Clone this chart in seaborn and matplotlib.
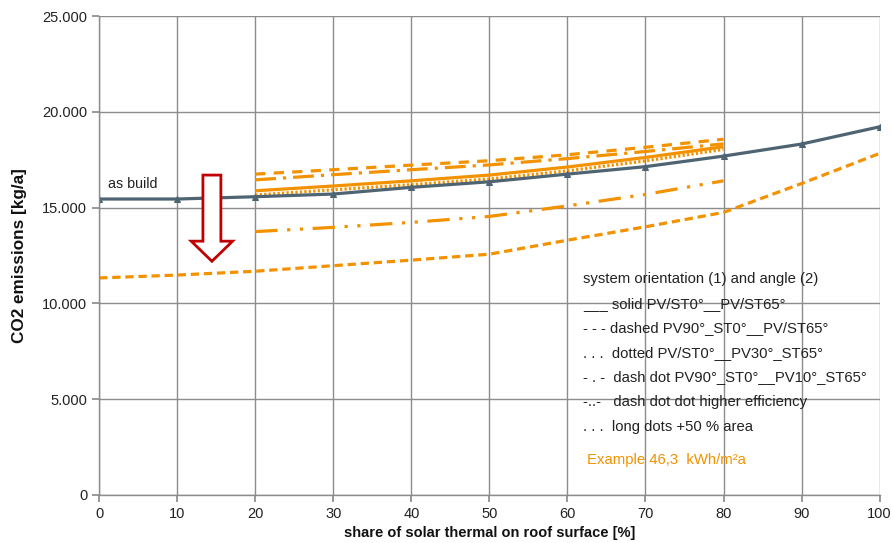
import numpy as np
import pandas as pd
import matplotlib
matplotlib.use("Agg")
import matplotlib.pyplot as plt
from matplotlib.patches import Polygon
from matplotlib.ticker import FuncFormatter, MultipleLocator
import seaborn as sns

# share of solar thermal on roof surface [%]
share_full = [0, 10, 20, 30, 40, 50, 60, 70, 80, 90, 100]
share_part = [20, 30, 40, 50, 60, 70, 80]

# CO2 emissions [kg/a]
as_build = [15450, 15450, 15570, 15710, 16060, 16350, 16750, 17140, 17690, 18320, 19220]
solid = [15880, 16130, 16400, 16700, 17120, 17620, 18180]
dashed = [16750, 16980, 17220, 17450, 17760, 18150, 18570]
dotted = [15660, 15930, 16200, 16500, 16920, 17440, 18040]
dash_dot = [16450, 16720, 16980, 17230, 17560, 17930, 18330]
dash_dot_dot = [13750, 13970, 14230, 14540, 15090, 15690, 16400]
long_dots = [11330, 11480, 11680, 11970, 12260, 12570, 13300, 14000, 14750, 16260, 17830]

legend_lines = [
    "system orientation (1) and angle (2)",
    "___ solid PV/ST0°__PV/ST65°",
    "- - - dashed PV90°_ST0°__PV/ST65°",
    ". . .  dotted PV/ST0°__PV30°_ST65°",
    "- . -  dash dot PV90°_ST0°__PV10°_ST65°",
    "-..-   dash dot dot higher efficiency",
    ". . .  long dots +50 % area",
]
example_label = "Example 46,3  kWh/m²a"

sns.set_theme(style="white")
plt.rcParams["font.family"] = ["Liberation Sans", "DejaVu Sans"]

orange = "#F39200"
slate = "#4E6472"
grid_col = "#8C8C8C"

fig = plt.figure(figsize=(8.93, 5.43), dpi=100)
ax = fig.add_axes([0.111, 0.0884, 0.874, 0.882])

orange_series = [
    (share_part, solid, None),
    (share_part, dashed, (3.2, 2.6)),
    (share_part, dotted, (0.7, 0.7)),
    (share_part, dash_dot, (6.5, 2.2, 1.0, 2.2)),
    (share_part, dash_dot_dot, (7.0, 3.0, 1.0, 3.0, 1.0, 3.0)),
    (share_full, long_dots, (2.6, 1.5)),
]
for xs, ys, dash in orange_series:
    df = pd.DataFrame({"share": xs, "co2": ys})
    sns.lineplot(data=df, x="share", y="co2", ax=ax, color=orange, linewidth=2.3)
    line = ax.lines[-1]
    if dash is not None:
        line.set_dashes(dash)
    line.set_solid_capstyle("butt")

df_ab = pd.DataFrame({"share": share_full, "co2": as_build})
sns.lineplot(data=df_ab, x="share", y="co2", ax=ax, color=slate, linewidth=2.3,
             marker="^", markersize=5, markeredgecolor=slate)

ax.set_xlim(0, 100)
ax.set_ylim(0, 25000)
ax.xaxis.set_major_locator(MultipleLocator(10))
ax.yaxis.set_major_locator(MultipleLocator(5000))
ax.yaxis.set_major_formatter(FuncFormatter(lambda v, p: f"{int(v):,}".replace(",", ".")))
ax.grid(True, color=grid_col, linewidth=1.0)
ax.set_axisbelow(True)
for side in ["top", "right"]:
    ax.spines[side].set_visible(False)
for side in ["left", "bottom"]:
    ax.spines[side].set_color(grid_col)
    ax.spines[side].set_linewidth(1.0)
ax.tick_params(axis="both", which="major", length=5, color=grid_col,
               labelsize=10.5, labelcolor="#222222", direction="out",
               bottom=True, left=True)

ax.set_xlabel("share of solar thermal on roof surface [%]", fontsize=10.5,
              fontweight="bold", color="#111111", labelpad=4)
ax.set_ylabel("CO2 emissions [kg/a]", fontsize=12.3, fontweight="bold",
              color="#111111", labelpad=11)

ax.text(1.2, 16250, "as build", fontsize=10.3, color="#222222", va="center")

# hollow arrow pointing down
arrow = Polygon([(13.3, 16700), (15.6, 16700), (15.6, 13250), (17.1, 13250),
                 (14.45, 12200), (11.8, 13250), (13.3, 13250)],
                closed=True, facecolor="white", edgecolor="#C00000",
                linewidth=2.0, zorder=5)
ax.add_patch(arrow)

y0 = 279
for i, t in enumerate(legend_lines):
    ypix = y0 + i * 24.6
    ax.text(583 / 893, 1 - ypix / 543, t, transform=fig.transFigure,
            fontsize=10.7, color="#222222", va="center", ha="left")
ax.text(587 / 893, 1 - 460 / 543, example_label, transform=fig.transFigure,
        fontsize=10.7, color=orange, va="center", ha="left")

fig.savefig("out.png", dpi=100)
